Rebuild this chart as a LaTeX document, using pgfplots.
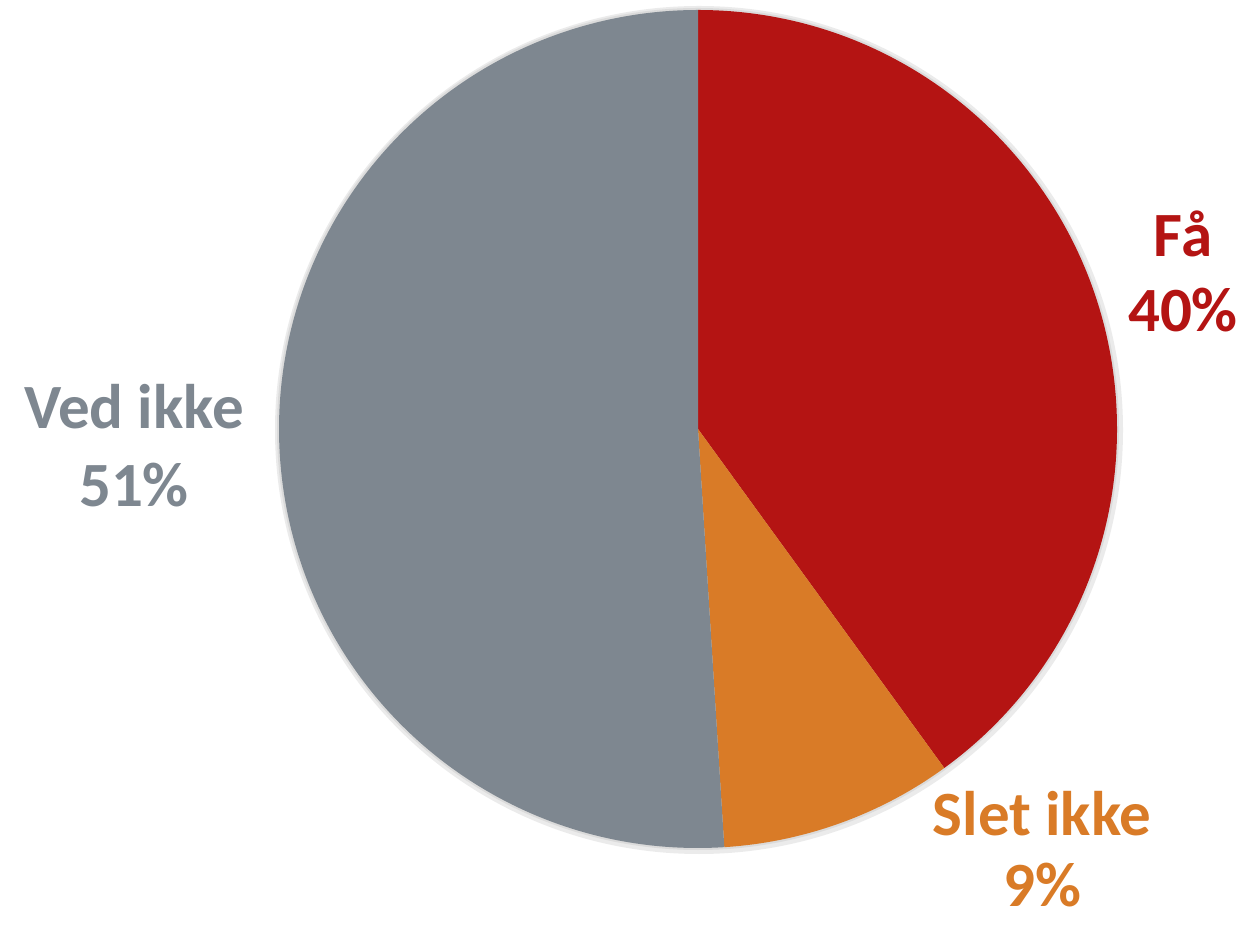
\documentclass[border=0pt]{standalone}
\usepackage{fontspec}
\setmainfont{Carlito}
\usepackage{pgfplots}
\usepackage{pgfplotstable}
\pgfplotsset{compat=1.18}
\definecolor{cFa}{HTML}{B41413}
\definecolor{cSlet}{HTML}{D97B27}
\definecolor{cVed}{HTML}{7E8790}
\pgfplotstableread{
label value
Fa 40
Slet 9
Ved 51
}\piedata
\begin{document}
\begin{tikzpicture}
\pgfplotstablegetelem{0}{value}\of\piedata \let\va\pgfplotsretval
\pgfplotstablegetelem{1}{value}\of\piedata \let\vb\pgfplotsretval
\pgfplotstablegetelem{2}{value}\of\piedata \let\vc\pgfplotsretval
\pgfmathsetmacro{\aone}{90-3.6*\va}
\pgfmathsetmacro{\atwo}{\aone-3.6*\vb}
\pgfmathsetmacro{\athree}{\atwo-3.6*\vc}
\begin{axis}[x=1bp,y=1bp,xmin=0,xmax=1248,ymin=0,ymax=926,hide axis,clip=false]
\path (axis cs:0,0) rectangle (axis cs:1248,926);
\fill[black!8] (axis cs:699,496) circle[radius=424bp];
\fill[black!14] (axis cs:698,497) circle[radius=421bp];
\fill[cFa] (axis cs:698,497) -- ++(90:419bp) arc[start angle=90,end angle=\aone,radius=419bp] -- cycle;
\fill[cSlet] (axis cs:698,497) -- ++(\aone:419bp) arc[start angle=\aone,end angle=\atwo,radius=419bp] -- cycle;
\fill[cVed] (axis cs:698,497) -- ++(\atwo:419bp) arc[start angle=\atwo,end angle=\athree,radius=419bp] -- cycle;
\begin{scope}[every node/.style={anchor=base,inner sep=0pt,font=\fontsize{63bp}{75bp}\selectfont\bfseries}]
\node[text=cFa] at (axis cs:1183,669) {Få};
\node[text=cFa] at (axis cs:1183,594) {40\%};
\node[text=cVed] at (axis cs:134,497) {Ved ikke};
\node[text=cVed] at (axis cs:134,419) {51\%};
\node[text=cSlet] at (axis cs:1042,90) {Slet ikke};
\node[text=cSlet] at (axis cs:1042,19) {9\%};
\end{scope}
\end{axis}
\end{tikzpicture}
\end{document}
